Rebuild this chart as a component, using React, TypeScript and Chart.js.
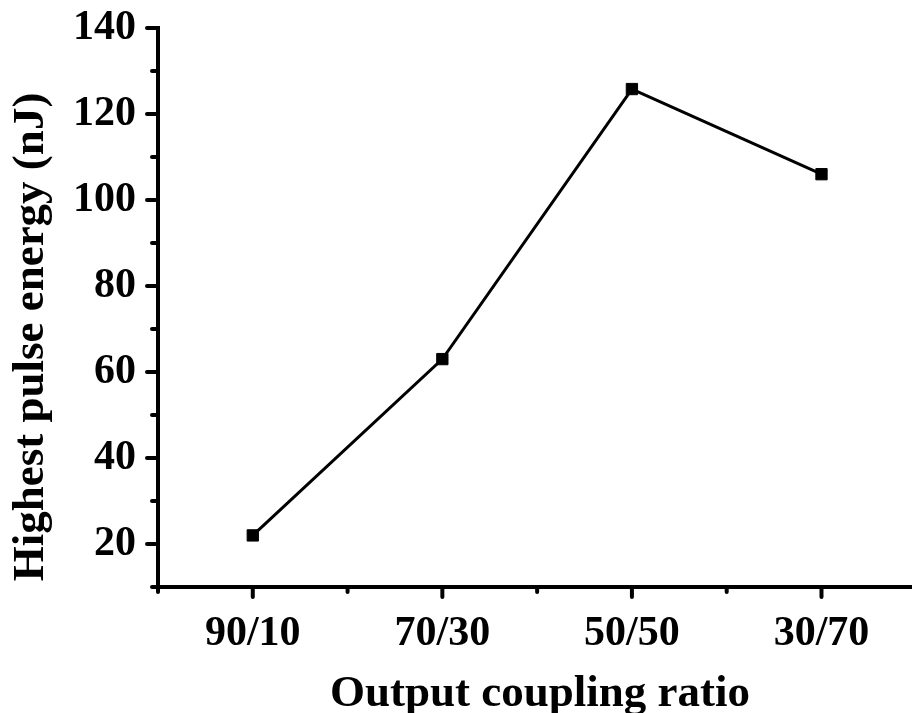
import { useEffect, useRef } from "react";
import { Chart, registerables } from "chart.js";

Chart.register(...registerables);

const categories = ["90/10", "70/30", "50/50", "30/70"];
const pulseEnergy = [22, 63, 125.8, 106];
const yTickValues = [20, 40, 60, 80, 100, 120, 140];
const yMinorTickValues = [10, 30, 50, 70, 90, 110, 130];
const xMinorTickValues = [0.5, 1.5, 2.5, 3.5];
const xTitle = "Output coupling ratio";
const yTitle = "Highest pulse energy (nJ)";

const FONT = "'Liberation Serif', 'Times New Roman', serif";

const axisDecor = {
  id: "axisDecor",
  afterDraw(chart: any) {
    const { ctx, chartArea, scales, width } = chart;
    const x = scales.x;
    const y = scales.y;
    ctx.save();
    ctx.strokeStyle = "#000";
    ctx.lineWidth = 4;
    ctx.lineCap = "round";
    const left = chartArea.left;
    const bottom = chartArea.bottom;
    // x axis line across to the edge
    ctx.beginPath();
    ctx.moveTo(left, bottom);
    ctx.lineTo(width + 2, bottom);
    ctx.stroke();
    yTickValues.forEach((v) => {
      const py = y.getPixelForValue(v);
      ctx.beginPath();
      ctx.moveTo(left, py);
      ctx.lineTo(left - 11, py);
      ctx.stroke();
    });
    yMinorTickValues.forEach((v) => {
      const py = y.getPixelForValue(v);
      ctx.beginPath();
      ctx.moveTo(left, py);
      ctx.lineTo(left - 6, py);
      ctx.stroke();
    });
    categories.forEach((_, i) => {
      const px = x.getPixelForValue(i + 1);
      ctx.beginPath();
      ctx.moveTo(px, bottom);
      ctx.lineTo(px, bottom + 10);
      ctx.stroke();
    });
    xMinorTickValues.forEach((v) => {
      const px = x.getPixelForValue(v);
      ctx.beginPath();
      ctx.moveTo(px, bottom);
      ctx.lineTo(px, bottom + 5);
      ctx.stroke();
    });
    ctx.fillStyle = "#000";
    ctx.font = `bold 45px ${FONT}`;
    ctx.textAlign = "center";
    ctx.textBaseline = "alphabetic";
    ctx.fillText(xTitle, 540, 706);
    ctx.translate(43, 337);
    ctx.rotate(-Math.PI / 2);
    ctx.fillText(yTitle, 0, 0);
    ctx.restore();
  },
};

export default function App() {
  const ref = useRef<HTMLCanvasElement>(null);
  useEffect(() => {
    const canvas = ref.current!;
    const tickFont = { family: FONT, size: 42, weight: "bold" as const };
    const chart = new Chart(canvas, {
      type: "line",
      data: {
        datasets: [
          {
            data: categories.map((_, i) => ({ x: i + 1, y: pulseEnergy[i] })),
            borderColor: "#000",
            borderWidth: 3,
            pointStyle: "rect",
            pointRadius: 8,
            pointBackgroundColor: "#000",
            pointBorderColor: "#000",
            pointBorderWidth: 1,
            tension: 0,
            clip: false,
          },
        ],
      },
      options: {
        responsive: false,
        animation: false,
        layout: { padding: { top: 28, right: 0, left: 0, bottom: 0 } },
        plugins: { legend: { display: false }, tooltip: { enabled: false } },
        scales: {
          x: {
            type: "linear",
            min: 0.5,
            max: 4.43,
            afterBuildTicks: (s: any) => {
              s.ticks = categories.map((_, i) => ({ value: i + 1 }));
            },
            afterFit: (s: any) => {
              s.height = 126;
              s.paddingLeft = 0;
              s.paddingRight = 0;
              s.paddingTop = 0;
              s.paddingBottom = 0;
            },
            ticks: {
              callback: (v: any) => categories[Number(v) - 1] ?? "",
              font: tickFont,
              color: "#000",
              padding: 22,
              maxRotation: 0,
              autoSkip: false,
            },
            grid: { display: false, drawTicks: false, tickLength: 0 },
            border: { display: false },
          },
          y: {
            type: "linear",
            min: 10,
            max: 140,
            afterBuildTicks: (s: any) => {
              s.ticks = yTickValues.map((v) => ({ value: v }));
            },
            afterFit: (s: any) => {
              s.width = 158;
              s.paddingLeft = 0;
              s.paddingRight = 0;
              s.paddingTop = 0;
              s.paddingBottom = 0;
            },
            ticks: {
              font: tickFont,
              color: "#000",
              padding: 22,
              autoSkip: false,
            },
            grid: { display: false, drawTicks: false, tickLength: 0 },
            border: { display: true, color: "#000", width: 4 },
          },
        },
      },
      plugins: [axisDecor],
    });
    return () => chart.destroy();
  }, []);
  return (
    <canvas
      ref={ref}
      width={912}
      height={713}
      style={{ position: "fixed", left: 0, top: 0, width: 912, height: 713, background: "#fff" }}
    />
  );
}
